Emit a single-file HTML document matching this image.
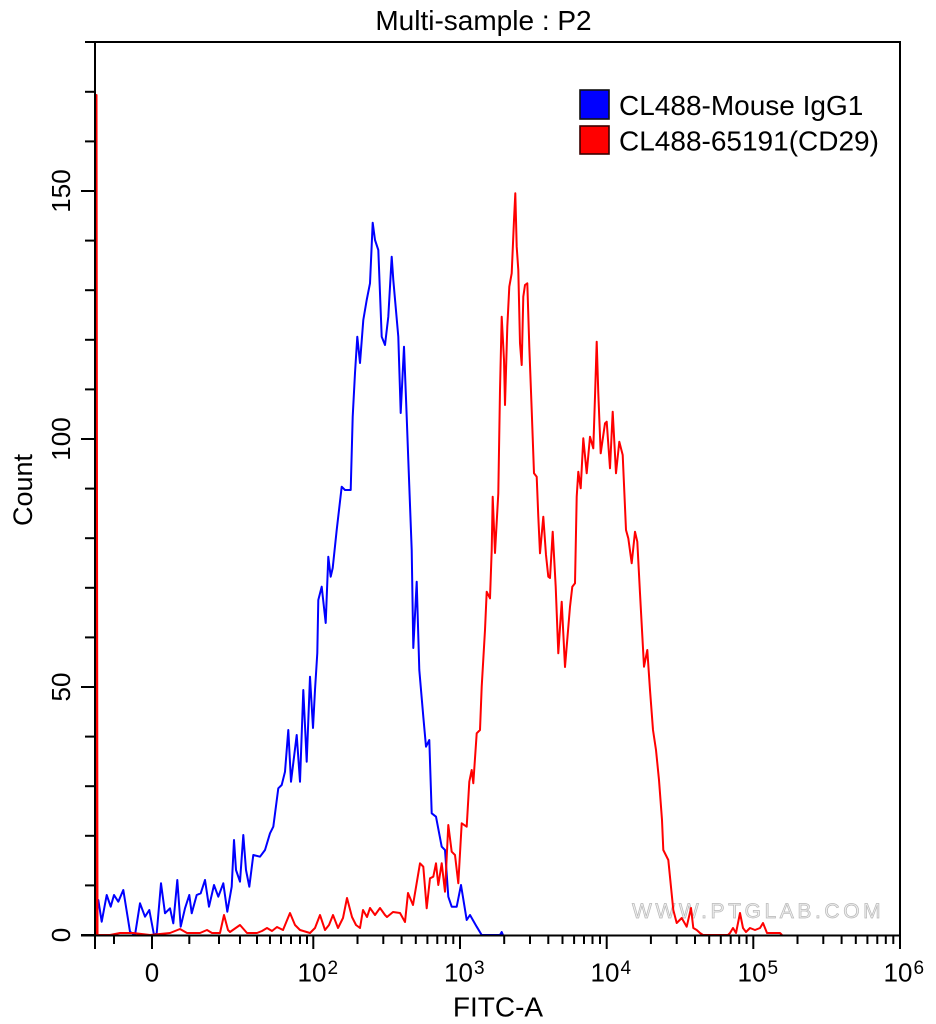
<!DOCTYPE html>
<html><head><meta charset="utf-8"><style>
html,body{margin:0;padding:0;background:#fff;}
svg{display:block;}
text{font-family:"Liberation Sans",Arial,sans-serif;fill:#000;}
</style></head><body>
<svg width="936" height="1024" viewBox="0 0 936 1024" xmlns="http://www.w3.org/2000/svg">
<rect width="936" height="1024" fill="#fff"/>
<text x="483.5" y="30" font-size="28" text-anchor="middle">Multi-sample : P2</text>
<text x="632" y="918" font-size="21" letter-spacing="3.6" style="fill:#eeeeee;stroke:#b8b8b8;stroke-width:0.7">WWW.PTGLAB.COM</text>
<polyline fill="none" stroke="#0000ff" stroke-width="2" stroke-linejoin="round" points="96,935 96,500 97,900 98.3,900 101.7,921.7 106.7,895 110.7,906.7 114,895 118.3,901.7 123.3,890 130,931.7 135,935 140,903.3 145,916.7 149.3,910 154,935 156.7,933.3 161,883.3 165,913.3 170,908.3 173.3,923.3 177.3,880 180.7,926.7 185,908.3 189.3,895 191.7,913.3 196.7,895 200.7,893.3 205,880 209,906.7 214,885 218.3,896.7 223.3,883.3 227.3,911.7 231.7,886.7 234,840 236,870 240,881.7 243.3,835 246,870 249.3,886.7 253.3,855 260,856.7 265,850 270,833.3 273.3,826.7 278.3,788.3 281.7,785 285,771.7 288.3,730 291,781.7 296.7,735 300,781.7 303.3,690 306.7,761.7 310,676.7 313,728 315,690 317.3,653 318.3,600 321.7,586.7 325.7,623 328.3,556.7 330.7,576.7 332.7,568 336.7,530 341.7,486.7 345,490 350.7,490 352.7,416.7 355,373 357.3,336.7 360,363 363.3,320 366.7,300 370,283.3 372.7,222.7 375,240 378.3,250 381.7,336.7 385,345 388.3,316.7 391.7,256.7 393.3,280 398.3,336.7 400.7,413 404,346.7 406.7,416.7 408.3,460 411.7,550 413.3,648 416.7,581.7 419.3,670 423.3,716.7 426,746.7 429.3,740 431.7,813.3 436,816.7 441.7,846.7 445,850 448.3,896.7 451.7,906.7 456.7,906.7 461,885 466.7,920 470,915 476.7,926.7 481.7,935 500,935 501.7,932 503,935"/>
<polyline fill="none" stroke="#ff0000" stroke-width="2" stroke-linejoin="round" points="96.5,935 96.5,95 97.5,935 100,935 110,935 120,933 133,933 150,935 170,933 180,929 187,933 200,933 207,930 212,933 220,933 224,915 228,930 230,932 240,925 247,933 257,933 262,931 267,928 272,931 277,927 283,930 290,913 295,925 300,930 310,933 315,928 320,915 325,930 329,925 333,915 338,928 343,918 347,898 352,917 356,925 360,928 363,910 367,917 370,908 375,915 380,908 385,915 387,917 393,912 400,913 405,922 408,893 413,905 420,863.3 423.3,866.7 426.7,908.3 430,878.3 433.3,876.7 436,863.3 438.3,885 441.7,863.3 445,891.7 448.3,825 451.7,851.7 455,855 458.3,883.3 461.7,823.3 466.7,826.7 469.3,781.7 471.7,770 473.3,783.3 476.7,733.3 480,730 481.7,686.7 485,630 486.7,591.7 490,598.3 491.7,550 492.7,496.7 495,553 498.3,493.3 500,390 501.7,316.7 504,360 505,405 507.3,326.7 509.3,286.7 511.7,273.3 514,220 515.3,193.3 516.7,246.7 518.3,270 520,343.3 521.7,365 523.3,296.7 525,285 527.3,283.3 529.3,346.7 531.7,410 534,473.3 536.7,476.7 538.3,516.7 540,553.3 543.3,516.7 546,555 548.3,576.7 550,578 552.7,531.7 555.7,586.7 558.3,653.3 561.7,601.7 565,667 570,606.7 572.3,586.7 575,583.3 576.7,496.7 578.3,471.7 580.7,488.3 583.3,438.3 586.7,473.3 590,436.7 593.3,448.3 595,396.7 596.7,341.7 598.3,393.3 600.7,453.3 605,423.3 606.7,421.7 610,468.3 612.7,411.7 616,473.3 619.3,441.7 622.7,455 626,530 628.3,538.3 631.7,563.3 635,531.7 637.3,541.7 640,593.3 644,666.7 647.3,650 650,690 653,730 656,750 659,780 662,820 663.3,850 668.3,860 673.3,910 676.7,923 681.7,918 686.7,926.7 691,908 693.3,928 696.7,930 700,933 703,935 728,935 730,933 733,928 736,933 740,913 743,928 746,932 750,928 755,930 760,928 763,923 767,933 780,933 782,935"/>
<g stroke="#000" stroke-width="2" fill="none">
<line x1="95" y1="42" x2="95" y2="936"/>
<line x1="85" y1="42" x2="901" y2="42"/>
<line x1="900" y1="42" x2="900" y2="936"/>
<line x1="81" y1="935.5" x2="901" y2="935.5"/>
</g>
<g stroke="#000" stroke-width="2">
<line x1="81" y1="935" x2="95" y2="935"/>
<line x1="85" y1="885.4" x2="95" y2="885.4"/>
<line x1="85" y1="835.8" x2="95" y2="835.8"/>
<line x1="85" y1="786.2" x2="95" y2="786.2"/>
<line x1="85" y1="736.6" x2="95" y2="736.6"/>
<line x1="81" y1="687" x2="95" y2="687"/>
<line x1="85" y1="637.4" x2="95" y2="637.4"/>
<line x1="85" y1="587.8" x2="95" y2="587.8"/>
<line x1="85" y1="538.2" x2="95" y2="538.2"/>
<line x1="85" y1="488.6" x2="95" y2="488.6"/>
<line x1="81" y1="439" x2="95" y2="439"/>
<line x1="85" y1="389.4" x2="95" y2="389.4"/>
<line x1="85" y1="339.8" x2="95" y2="339.8"/>
<line x1="85" y1="290.2" x2="95" y2="290.2"/>
<line x1="85" y1="240.6" x2="95" y2="240.6"/>
<line x1="81" y1="191" x2="95" y2="191"/>
<line x1="85" y1="141.4" x2="95" y2="141.4"/>
<line x1="85" y1="91.8" x2="95" y2="91.8"/>
</g>
<g stroke="#000" stroke-width="2">
<line x1="95" y1="935" x2="95" y2="949"/>
<line x1="152" y1="935" x2="152" y2="949"/>
<line x1="313.3" y1="935" x2="313.3" y2="949"/>
<line x1="460" y1="935" x2="460" y2="949"/>
<line x1="606.7" y1="935" x2="606.7" y2="949"/>
<line x1="753.3" y1="935" x2="753.3" y2="949"/>
<line x1="900" y1="935" x2="900" y2="949"/>
</g>
<g stroke="#000" stroke-width="2">
<line x1="114" y1="935" x2="114" y2="944"/>
<line x1="189.3" y1="935" x2="189.3" y2="944"/>
<line x1="219" y1="935" x2="219" y2="944"/>
<line x1="240" y1="935" x2="240" y2="944"/>
<line x1="257" y1="935" x2="257" y2="944"/>
<line x1="270" y1="935" x2="270" y2="944"/>
<line x1="281" y1="935" x2="281" y2="944"/>
<line x1="291" y1="935" x2="291" y2="944"/>
<line x1="300" y1="935" x2="300" y2="944"/>
<line x1="307" y1="935" x2="307" y2="944"/>
<line x1="357.5" y1="935" x2="357.5" y2="944"/>
<line x1="383.3" y1="935" x2="383.3" y2="944"/>
<line x1="401.6" y1="935" x2="401.6" y2="944"/>
<line x1="415.8" y1="935" x2="415.8" y2="944"/>
<line x1="427.4" y1="935" x2="427.4" y2="944"/>
<line x1="437.3" y1="935" x2="437.3" y2="944"/>
<line x1="445.8" y1="935" x2="445.8" y2="944"/>
<line x1="453.3" y1="935" x2="453.3" y2="944"/>
<line x1="504.2" y1="935" x2="504.2" y2="944"/>
<line x1="530" y1="935" x2="530" y2="944"/>
<line x1="548.3" y1="935" x2="548.3" y2="944"/>
<line x1="562.5" y1="935" x2="562.5" y2="944"/>
<line x1="574.1" y1="935" x2="574.1" y2="944"/>
<line x1="584" y1="935" x2="584" y2="944"/>
<line x1="592.5" y1="935" x2="592.5" y2="944"/>
<line x1="600" y1="935" x2="600" y2="944"/>
<line x1="650.9" y1="935" x2="650.9" y2="944"/>
<line x1="676.7" y1="935" x2="676.7" y2="944"/>
<line x1="695" y1="935" x2="695" y2="944"/>
<line x1="709.2" y1="935" x2="709.2" y2="944"/>
<line x1="720.8" y1="935" x2="720.8" y2="944"/>
<line x1="730.7" y1="935" x2="730.7" y2="944"/>
<line x1="739.2" y1="935" x2="739.2" y2="944"/>
<line x1="746.6" y1="935" x2="746.6" y2="944"/>
<line x1="797.5" y1="935" x2="797.5" y2="944"/>
<line x1="823.3" y1="935" x2="823.3" y2="944"/>
<line x1="841.6" y1="935" x2="841.6" y2="944"/>
<line x1="855.8" y1="935" x2="855.8" y2="944"/>
<line x1="867.4" y1="935" x2="867.4" y2="944"/>
<line x1="877.3" y1="935" x2="877.3" y2="944"/>
<line x1="885.8" y1="935" x2="885.8" y2="944"/>
<line x1="893.3" y1="935" x2="893.3" y2="944"/>
</g>
<g font-size="26" text-anchor="middle">
<text transform="translate(70,935) rotate(-90)">0</text>
<text transform="translate(70,687) rotate(-90)">50</text>
<text transform="translate(70,439) rotate(-90)">100</text>
<text transform="translate(70,191) rotate(-90)">150</text>
</g>
<text transform="translate(32,490) rotate(-90)" font-size="27" text-anchor="middle">Count</text>
<g font-size="26">
<text x="152" y="981.5" text-anchor="middle">0</text>
<text x="312" y="981.5" text-anchor="middle">10</text>
<text x="327.5" y="974" font-size="19">2</text>
<text x="458.5" y="981.5" text-anchor="middle">10</text>
<text x="474" y="974" font-size="19">3</text>
<text x="605" y="981.5" text-anchor="middle">10</text>
<text x="620.5" y="974" font-size="19">4</text>
<text x="752" y="981.5" text-anchor="middle">10</text>
<text x="767.5" y="974" font-size="19">5</text>
<text x="898" y="981.5" text-anchor="middle">10</text>
<text x="913.5" y="974" font-size="19">6</text>
</g>
<text x="498" y="1016.5" font-size="28" text-anchor="middle">FITC-A</text>
<rect x="580" y="90" width="29" height="29" fill="#0000ff" stroke="#111" stroke-width="1.6"/>
<rect x="580" y="126" width="29" height="28" fill="#ff0000" stroke="#3a0000" stroke-width="1.6"/>
<text x="619" y="115" font-size="28">CL488-Mouse IgG1</text>
<text x="619" y="150.5" font-size="28">CL488-65191(CD29)</text>
</svg>
</body></html>
